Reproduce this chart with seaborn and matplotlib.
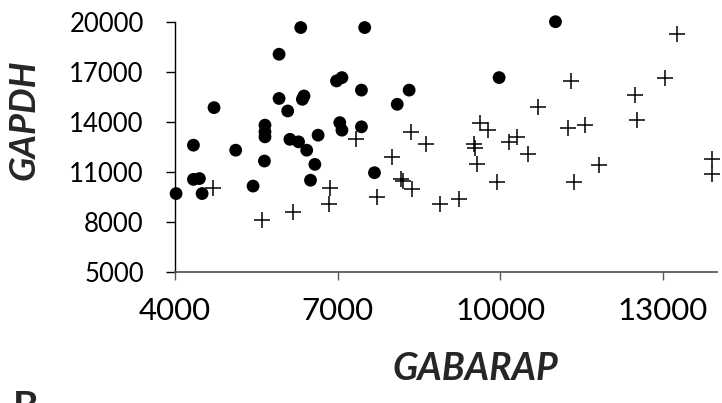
import matplotlib
matplotlib.use("Agg")
import matplotlib.pyplot as plt
import seaborn as sns
import pandas as pd

# group shown with filled circles
circle_gabarap = [4020, 4340, 4340, 4450, 4500, 4720, 5120, 5440, 5650, 5660, 5660, 5660,
                  5920, 5920, 6080, 6120, 6280, 6430, 6320, 6350, 6380, 6580, 6500, 6640,
                  6980, 7080, 7040, 7080, 7440, 7440, 7500, 7680, 8100, 8320, 9980, 11020]
circle_gapdh = [9700, 12600, 10550, 10600, 9700, 14850, 12300, 10150, 11650, 13800, 13400, 13100,
                18050, 15400, 14650, 12950, 12800, 12300, 19650, 15350, 15550, 11450, 10500, 13200,
                16450, 16650, 13950, 13500, 15900, 13700, 19650, 10950, 15050, 15900, 16650, 20000]

# group shown with plus signs
plus_gabarap = [4710, 5600, 6180, 6860, 6840, 7340, 7720, 8000, 8170, 8210, 8380, 8360,
                8630, 8890, 9240, 9510, 9530, 9620, 9780, 9570, 9950, 10160, 10310, 10520,
                10700, 11250, 11300, 11360, 11560, 11820, 12490, 12530, 13040, 13260, 13900, 13900]
plus_gapdh = [10050, 8100, 8600, 10050, 9100, 12950, 9500, 11900, 10600, 10450, 10000, 13400,
              12700, 9100, 9400, 12700, 12450, 13900, 13500, 11500, 10400, 12800, 13100, 12100,
              14900, 13600, 16450, 10400, 13800, 11400, 15600, 14100, 16650, 19250, 11750, 10900]

x_ticks = [4000, 7000, 10000, 13000]
y_ticks = [5000, 8000, 11000, 14000, 17000, 20000]

df_circle = pd.DataFrame({'GABARAP': circle_gabarap, 'GAPDH': circle_gapdh})
df_plus = pd.DataFrame({'GABARAP': plus_gabarap, 'GAPDH': plus_gapdh})

sns.set_style('white')
plt.rcParams['font.family'] = ['Lato', 'DejaVu Sans']

fig = plt.figure(figsize=(7.22, 4.03), dpi=100)
ax = fig.add_axes([175 / 722, 1 - 272 / 403, 542 / 722, 250.3 / 403])

sns.scatterplot(data=df_circle, x='GABARAP', y='GAPDH', marker='o', s=85,
                color='black', edgecolor='none', linewidth=0, ax=ax, clip_on=False)
sns.scatterplot(data=df_plus, x='GABARAP', y='GAPDH', marker='+', s=120,
                color='black', linewidth=1.1, ax=ax, clip_on=False)

ax.set_xlim(4000, 14000)
ax.set_ylim(5000, 20000)
ax.set_xticks(x_ticks)
ax.set_yticks(y_ticks)
ax.set_xticklabels([str(t) for t in x_ticks], fontsize=22.5)
ax.set_yticklabels([str(t) for t in y_ticks], fontsize=18.5)

ax.spines['top'].set_visible(False)
ax.spines['right'].set_visible(False)
ax.spines['left'].set_color('black')
ax.spines['left'].set_linewidth(1.0)
ax.spines['bottom'].set_color('#595959')
ax.spines['bottom'].set_linewidth(1.3)

ax.tick_params(axis='y', direction='out', length=6.5, width=1.0, color='black',
               pad=16, left=True, labelcolor='black')
ax.tick_params(axis='x', direction='out', length=6, width=1.0, color='#595959',
               pad=12, bottom=True, labelcolor='black')

ax.set_xlabel('GABARAP', fontsize=27, fontweight='bold', fontstyle='italic')
ax.set_ylabel('GAPDH', fontsize=26, fontweight='bold', fontstyle='italic')
ax.xaxis.set_label_coords(0.555, -0.385)
ax.yaxis.set_label_coords(-0.279, 0.607)
ax.xaxis.label.set_verticalalignment('center')
ax.yaxis.label.set_verticalalignment('center')

fig.text(13 / 722, 1 - 390 / 403, 'B', fontsize=28, fontweight='bold',
         ha='left', va='top')

plt.savefig('out.png', dpi=100)
